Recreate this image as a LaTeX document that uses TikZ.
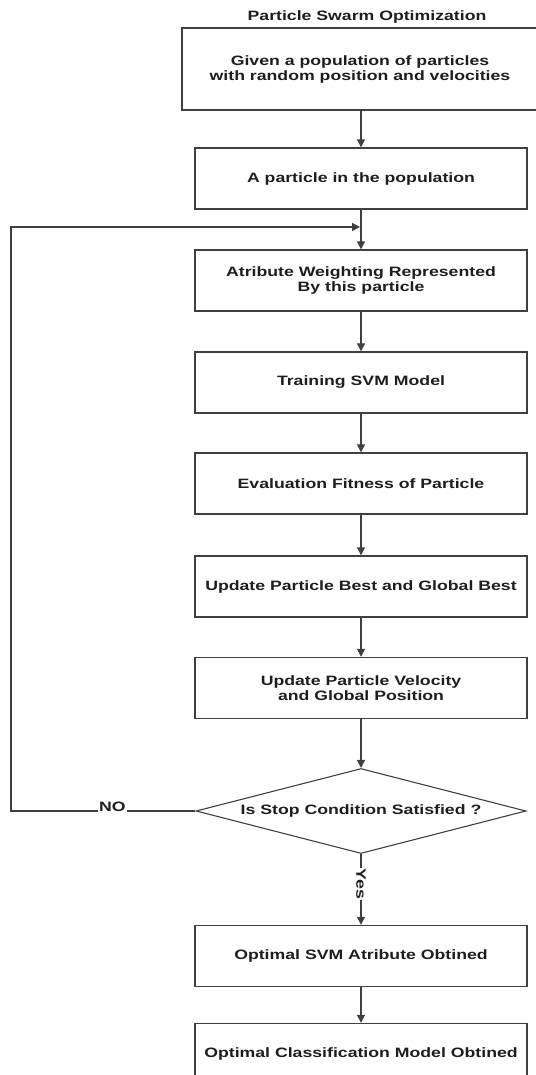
\documentclass[tikz,border=0pt]{standalone}
\usepackage{fontspec}
\setmainfont{Liberation Sans}[FakeStretch=1.3]
\usetikzlibrary{shapes.geometric,arrows.meta}
\definecolor{linec}{HTML}{404040}
\definecolor{textc}{HTML}{1E1E1E}
\newcommand{\fsz}{\fontsize{13.6}{15}\selectfont}
\begin{document}
\begin{tikzpicture}[x=1pt,y=-1pt,
  stepbox/.style={draw=linec, line width=1.4pt, minimum width=332, minimum height=61,
    inner sep=0pt, align=center, font=\bfseries\fsz, text=textc},
  decision/.style={diamond, draw=linec, line width=1.1pt, minimum width=330, minimum height=85,
    aspect=3.88, inner sep=0pt, align=center, font=\bfseries\fsz, text=textc},
  arr/.style={draw=linec, line width=1.3pt, -{Triangle[width=8pt,length=8pt]}},
  lab/.style={fill=white, inner sep=1pt, font=\bfseries\fsz, text=textc}]
\useasboundingbox[fill=white] (0,0) rectangle (535,1075);
\node[font=\bfseries\fsz, text=textc] (title) at (367,17) {Particle Swarm Optimization};
\node[stepbox, minimum width=356, minimum height=82] (b1) at (360,69)
  {Given a population of particles\\with random position and velocities};
\node[stepbox] (b2) at (361,178.5) {A particle in the population};
\node[stepbox] (b3) at (361,280.5) {Atribute Weighting Represented\\By this particle};
\node[stepbox] (b4) at (361,382.5) {Training SVM Model};
\node[stepbox] (b5) at (361,483.5) {Evaluation Fitness of Particle};
\node[stepbox] (b6) at (361,586.5) {Update Particle Best and Global Best};
\node[stepbox] (b7) at (361,688) {Update Particle Velocity\\and Global Position};
\node[decision] (d) at (361,811) {Is Stop Condition Satisfied ?};
\node[stepbox] (b8) at (361,956) {Optimal SVM Atribute Obtined};
\node[stepbox] (b9) at (361,1054) {Optimal Classification Model Obtined};
\coordinate (lc) at (11,811);
\coordinate (j) at (360,227);
\draw[arr] (b1.south -| b2.north) -- (b2.north);
\draw[arr] (b2) -- (b3);
\draw[arr] (b3) -- (b4);
\draw[arr] (b4) -- (b5);
\draw[arr] (b5) -- (b6);
\draw[arr] (b6) -- (b7);
\draw[arr] (b7) -- (d);
\draw[arr] (d.west) -- node[pos=0.45, lab, anchor=base, inner ysep=2pt] {NO} (lc) |- (j);
\draw[arr] (d.south) -- node[pos=0.42, lab, rotate=-90] {Yes} (b8.north);
\draw[arr] (b8) -- (b9);
\end{tikzpicture}
\end{document}
